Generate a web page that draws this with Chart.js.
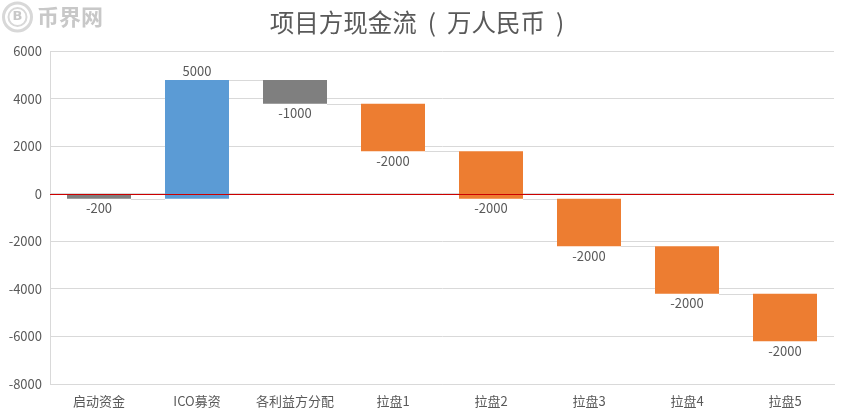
<!DOCTYPE html>
<html>
<head>
<meta charset="utf-8">
<title>项目方现金流</title>
<script src="https://cdn.jsdelivr.net/npm/chart.js@4"></script>
<style>
  html, body { margin: 0; padding: 0; background: #fff; }
  canvas { display: block; }
</style>
</head>
<body>
<canvas id="myChart" width="844" height="419"></canvas>
<script>
var categorias = ['启动资金', 'ICO募资', '各利益方分配', '拉盘1', '拉盘2', '拉盘3', '拉盘4', '拉盘5'];
var inicio = [0, -200, 4800, 3800, 1800, -200, -2200, -4200];
var fim = [-200, 4800, 3800, 1800, -200, -2200, -4200, -6200];
var rotulos = [-200, 5000, -1000, -2000, -2000, -2000, -2000, -2000];
var cores = ['#7f7f7f', '#5b9bd5', '#7f7f7f', '#ed7d31', '#ed7d31', '#ed7d31', '#ed7d31', '#ed7d31'];

var fonte = '"Noto Sans CJK SC", "Noto Sans", sans-serif';

var barras = [];
for (var i = 0; i < categorias.length; i++) {
    barras.push([inicio[i], fim[i]]);
}

// connectors, zero line, value labels and the watermark
var extras = {
    id: 'extras',
    afterDatasetsDraw: function (chart) {
        var ctx = chart.ctx;
        var y = chart.scales.y;
        var area = chart.chartArea;
        var meta = chart.getDatasetMeta(0).data;

        ctx.save();

        ctx.strokeStyle = '#d9d9d9';
        ctx.lineWidth = 1;
        for (var i = 0; i < meta.length - 1; i++) {
            var py = Math.round(y.getPixelForValue(fim[i])) + 0.5;
            ctx.beginPath();
            ctx.moveTo(meta[i].x + meta[i].width / 2, py);
            ctx.lineTo(meta[i + 1].x - meta[i + 1].width / 2, py);
            ctx.stroke();
        }

        var zero = Math.round(y.getPixelForValue(0)) + 0.5;
        ctx.strokeStyle = '#cc0000';
        ctx.lineWidth = 1.2;
        ctx.beginPath();
        ctx.moveTo(area.left, zero);
        ctx.lineTo(area.right, zero);
        ctx.stroke();

        ctx.fillStyle = '#595959';
        ctx.font = '13px ' + fonte;
        ctx.textAlign = 'center';
        ctx.textBaseline = 'middle';
        for (var j = 0; j < meta.length; j++) {
            var base = y.getPixelForValue(fim[j]);
            var ty = rotulos[j] > 0 ? base - 8.5 : base + 9.5;
            ctx.fillText(String(rotulos[j]), meta[j].x, ty);
        }

        ctx.strokeStyle = '#d8d8d8';
        ctx.lineWidth = 3;
        ctx.beginPath();
        ctx.arc(17.5, 17, 14, 0, Math.PI * 2);
        ctx.stroke();
        ctx.lineWidth = 2;
        ctx.beginPath();
        ctx.arc(17.5, 17, 9, 0, Math.PI * 2);
        ctx.stroke();
        ctx.fillStyle = '#c8c8c8';
        ctx.font = 'bold 13px "DejaVu Sans", sans-serif';
        ctx.textAlign = 'center';
        ctx.fillText('B', 17.5, 17);
        ctx.font = 'bold 22px ' + fonte;
        ctx.textAlign = 'left';
        ctx.fillText('币界网', 37, 17);

        ctx.restore();
    }
};

new Chart(document.getElementById('myChart').getContext('2d'), {
    type: 'bar',
    data: {
        labels: categorias,
        datasets: [{
            data: barras,
            backgroundColor: cores,
            borderWidth: 0,
            borderSkipped: false,
            categoryPercentage: 1,
            barPercentage: 0.653
        }]
    },
    options: {
        responsive: false,
        animation: false,
        layout: { padding: { right: 10, top: 0, left: 0, bottom: 0 } },
        plugins: {
            legend: { display: false },
            tooltip: { enabled: false },
            title: {
                display: true,
                text: '项目方现金流  (  万人民币  )',
                color: '#595959',
                font: { family: fonte, size: 24.5, weight: 'normal' },
                padding: { top: 8, bottom: 14 }
            }
        },
        scales: {
            x: {
                afterFit: function (scale) { scale.height = 35; },
                grid: { display: false, drawTicks: false },
                border: { display: true, color: '#d9d9d9' },
                ticks: { color: '#595959', font: { family: fonte, size: 13 }, padding: 9, maxRotation: 0, autoSkip: false }
            },
            y: {
                min: -8000,
                max: 6000,
                afterFit: function (scale) { scale.width = 50; },
                grid: { color: '#d9d9d9', drawTicks: false },
                border: { display: true, color: '#d9d9d9' },
                ticks: {
                    stepSize: 2000,
                    color: '#595959',
                    font: { family: fonte, size: 13 },
                    padding: 8,
                    callback: function (value) { return String(value); }
                }
            }
        }
    },
    plugins: [extras]
});
</script>
</body>
</html>
